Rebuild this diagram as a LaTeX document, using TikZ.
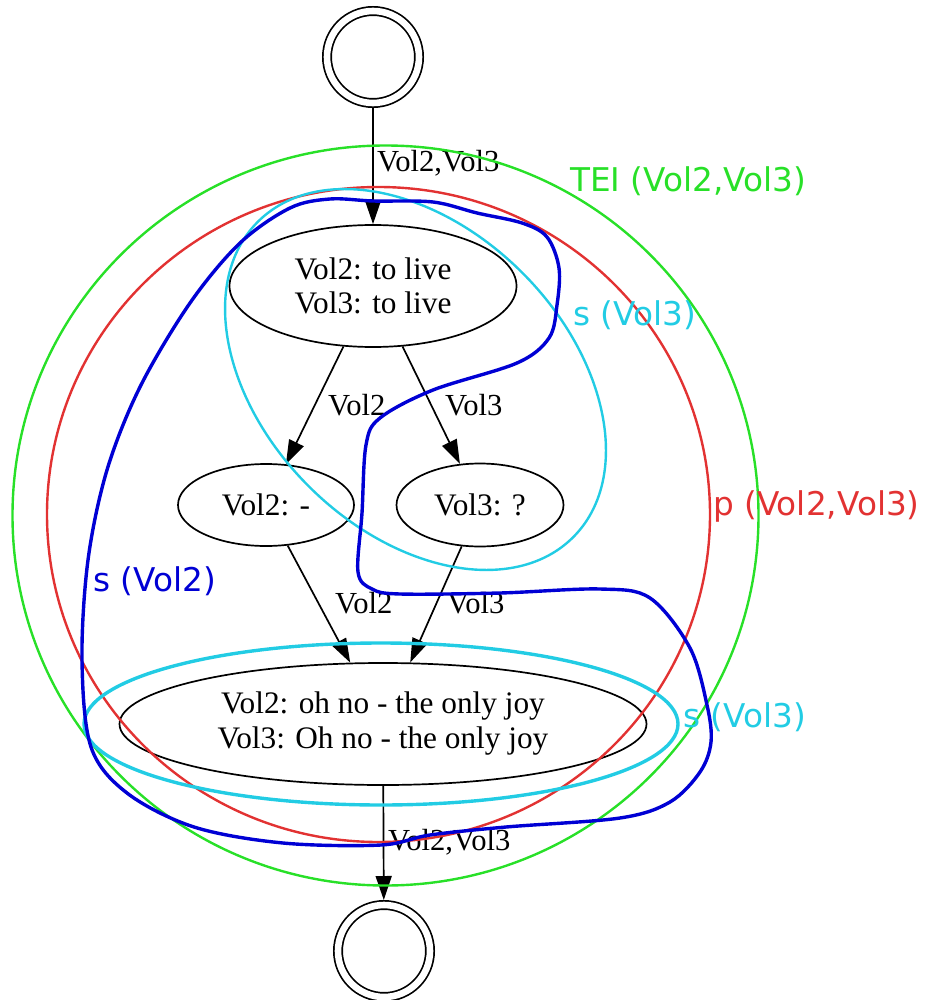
\documentclass[tikz,border=0pt]{standalone}
\usepackage{fontspec}
\setmainfont{Liberation Serif}
\newfontfamily\lblfont{DejaVu Sans}
\usetikzlibrary{shapes.geometric,arrows.meta}

\definecolor{teigreen}{RGB}{40,224,40}
\definecolor{pred}{RGB}{226,50,50}
\definecolor{scyan}{RGB}{34,204,228}
\definecolor{sblue}{RGB}{0,0,212}

\tikzset{
  state/.style={ellipse, draw, line width=1.7pt, inner sep=0pt, align=center,
    font=\fontsize{31.3}{34}\selectfont},
  terminal/.style={circle, draw, line width=1.7pt, double, double distance=6.6pt,
    minimum size=92pt, inner sep=0pt, outer sep=5pt},
  flow/.style={line width=1.7pt, -{Triangle[length=24pt,width=16pt]}},
  elabel/.style={anchor=base west, inner sep=0pt, font=\fontsize{30.6}{33}\selectfont},
  clabel/.style={anchor=base west, inner sep=0pt, font=\lblfont\fontsize{32.7}{36}\selectfont},
}

\begin{document}
\begin{tikzpicture}[x=1pt,y=-1pt]
\useasboundingbox (0,0) rectangle (924,1000);

% states
\node[terminal] (start) at (373,57) {};
\node[state, minimum width=287pt, minimum height=122pt] (a) at (373,286)
  {Vol2: to live\\Vol3: to live};
\node[state, minimum width=176pt, minimum height=82pt] (b) at (266,505) {Vol2: -};
\node[state, minimum width=167pt, minimum height=83pt] (c) at (480,505) {Vol3: ?};
\node[state, minimum width=527pt, minimum height=122pt] (d) at (383,724)
  {Vol2: oh no - the only joy\\[1pt]Vol3: Oh no - the only joy};
\node[terminal] (end) at (384,951) {};

% transitions
\draw[flow] (start) -- (a);
\draw[flow] (a) -- (b);
\draw[flow] (a) -- (c);
\draw[flow] (b) -- (d);
\draw[flow] (c) -- (d);
\draw[flow] (d) -- (end);

\node[elabel] (l1) at (377,172) {Vol2,Vol3};
\node[elabel] (l2) at (328,415) {Vol2};
\node[elabel] (l3) at (445,415) {Vol3};
\node[elabel] (l4) at (335,613) {Vol2};
\node[elabel] (l5) at (447,613) {Vol3};
\node[elabel] (l6) at (388,850) {Vol2,Vol3};

% witness groupings
\draw[teigreen, line width=2.4pt] (385.5,515.5) ellipse [x radius=373, y radius=370];
\draw[pred, line width=2.4pt] (378.5,514.5) ellipse [x radius=331.5, y radius=327.5];
\draw[scyan, line width=2.4pt, rotate around={-45:(415.5,379.5)}]
  (415.5,379.5) ellipse [x radius=223, y radius=151];
\draw[scyan, line width=3.4pt] (381,724) ellipse [x radius=297, y radius=81];
\draw[sblue, line width=3.4pt] plot[smooth cycle, tension=0.55] coordinates {
  (373,201) (433,202) (477,213) (522,223) (547,237) (559,268) (557,305)
  (549,338) (517,363) (433,390) (380,418) (366,445) (362,513) (358,572)
  (372,589) (400,594) (500,593) (600,589) (650,598) (690,648) (707,705)
  (711,742) (700,772) (670,802) (620,818) (506,827) (430,835) (381,845)
  (283,843) (194,827) (127,793) (91,747) (82,660) (88,560) (107,470)
  (140,387) (190,303) (240,243) (290,208) (330,199)};

\node[clabel, text=teigreen] (tei) at (570,192) {TEI (Vol2,Vol3)};
\node[clabel, text=scyan] (s3a) at (573,325) {s (Vol3)};
\node[clabel, text=pred] (p) at (713,515) {p (Vol2,Vol3)};
\node[clabel, text=sblue] (s2) at (93,591) {s (Vol2)};
\node[clabel, text=scyan] (s3b) at (683,727) {s (Vol3)};
\end{tikzpicture}
\end{document}
